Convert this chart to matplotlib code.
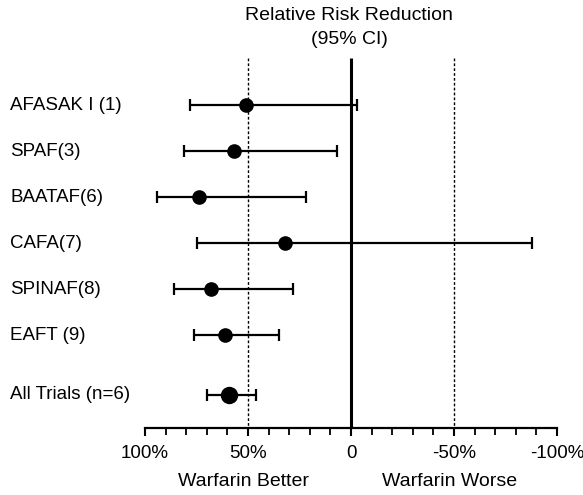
import matplotlib
matplotlib.use("Agg")
from matplotlib import pyplot as plt
from matplotlib.ticker import FixedLocator

# relative risk reduction (%) with 95% CI, per trial
trials = ["AFASAK I (1)", "SPAF(3)", "BAATAF(6)", "CAFA(7)",
          "SPINAF(8)", "EAFT (9)", "All Trials (n=6)"]
rrr = [51, 57, 74, 32, 68, 61, 59]
ci_low = [-3, 7, 22, -88, 28, 35, 46]
ci_high = [78, 81, 94, 75, 86, 76, 70]

tick_vals = [100, 50, 0, -50, -100]
tick_labels = ["100%", "50%", "0", "-50%", "-100%"]

plt.rcParams["font.family"] = ["Liberation Sans", "DejaVu Sans"]

fig = plt.figure(figsize=(5.83, 4.95), dpi=100)
ax = fig.add_axes([0, 0, 1, 1])

# row positions, the pooled estimate sits a little lower
rows = [0, 1, 2, 3, 4, 5, 6.3]
axis_y = 7.02
ax.set_xlim(170.4, -112.6)
ax.set_ylim(8.48, -2.28)

# reference lines
ax.vlines(0, -1.02, axis_y, color="black", lw=2.2)
ax.vlines([50, -50], -1.02, axis_y, color="black", lw=1.0,
          linestyles=(0, (2, 1.5)))

for i, name in enumerate(trials):
    pooled = i == len(trials) - 1
    ax.errorbar(rrr[i], rows[i],
                xerr=[[rrr[i] - ci_low[i]], [ci_high[i] - rrr[i]]],
                fmt="o", color="black", ms=11.5 if pooled else 9.5,
                elinewidth=1.6, capsize=4.5, capthick=1.6)
    fig.text(10 / 583, 1 - (105 + 46 * rows[i]) / 495, name,
             fontsize=13.5, ha="left", va="center")

# bottom axis with percent ticks
for side in ["top", "left", "right"]:
    ax.spines[side].set_visible(False)
ax.spines["bottom"].set_position(("data", axis_y))
ax.spines["bottom"].set_bounds(-100, 100)
ax.spines["bottom"].set_linewidth(1.6)
ax.xaxis.set_major_locator(FixedLocator(tick_vals))
ax.set_xticklabels(tick_labels, fontsize=13.5)
ax.xaxis.set_minor_locator(FixedLocator(range(-100, 101, 10)))
ax.tick_params(axis="x", which="major", direction="out", length=6,
               width=1.5, pad=6)
ax.tick_params(axis="x", which="minor", direction="out", length=5,
               width=1.3)
ax.set_yticks([])
ax.patch.set_visible(False)

fig.text(349 / 583, 1 - 16 / 495, "Relative Risk Reduction",
         fontsize=14, ha="center", va="center")
fig.text(349 / 583, 1 - 40 / 495, "(95% CI)",
         fontsize=14, ha="center", va="center")
fig.text(243 / 583, 1 - 482 / 495, "Warfarin Better",
         fontsize=14, ha="center", va="center")
fig.text(450 / 583, 1 - 482 / 495, "Warfarin Worse",
         fontsize=14, ha="center", va="center")

fig.savefig("out.png", dpi=100)
